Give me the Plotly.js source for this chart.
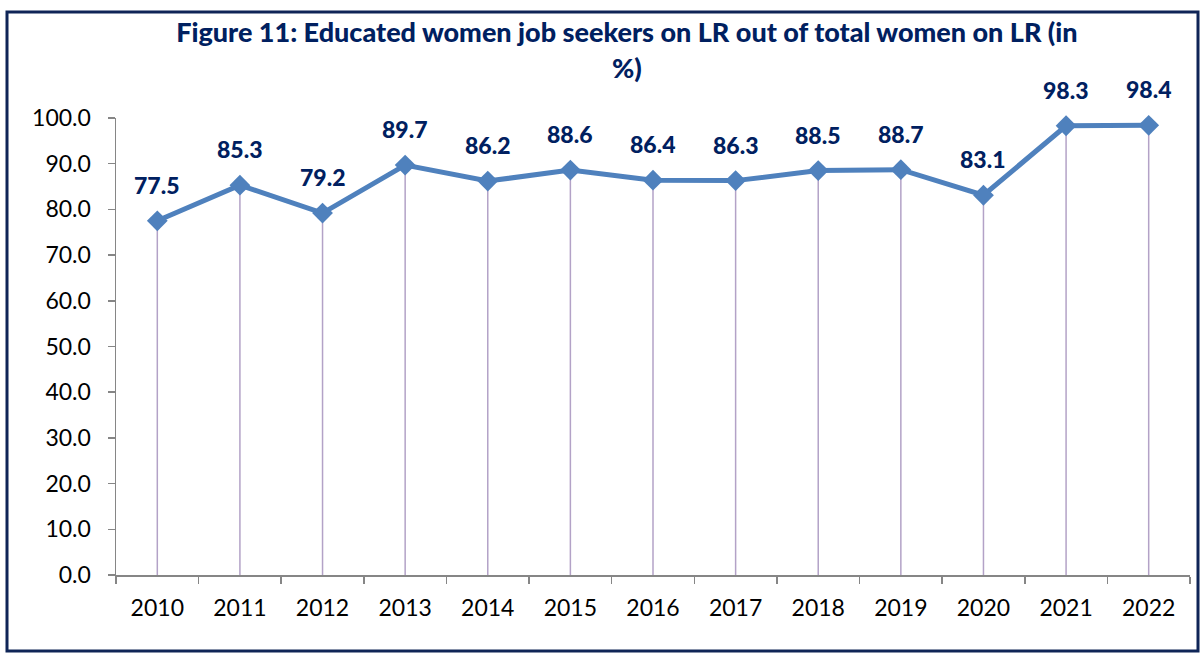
<!DOCTYPE html>
<html>
<head>
<meta charset="utf-8">
<script src="https://cdn.plot.ly/plotly-3.0.1.min.js"></script>
<style>
html,body{margin:0;padding:0;background:#fff;}
#chart{width:1201px;height:653px;}
</style>
</head>
<body>
<div id="chart"></div>
<script>
const years = ["2010","2011","2012","2013","2014","2015","2016","2017","2018","2019","2020","2021","2022"];
const shares = [77.5, 85.3, 79.2, 89.7, 86.2, 88.6, 86.4, 86.3, 88.5, 88.7, 83.1, 98.3, 98.4];
const yTickVals = [0,10,20,30,40,50,60,70,80,90,100];
const titleText = "Figure 11: Educated women job seekers on LR out of total women on LR (in<br>%)";

const FONT = "Lato, 'Open Sans', sans-serif";

const trace = {
  type: "scatter",
  mode: "lines+markers",
  x: years,
  y: shares,
  line: {color: "#4F81BD", width: 5},
  marker: {symbol: "diamond", size: 16, color: "#4F81BD"},
  error_y: {
    type: "data",
    symmetric: false,
    array: shares.map(() => 0),
    arrayminus: shares,
    width: 0,
    thickness: 1.5,
    color: "#B3A2C7"
  },
  hoverinfo: "x+y",
  cliponaxis: false
};

// category index used as annotation x (numeric-looking year strings would be read as indexes)
const annotations = years.map((yr, i) => ({
  x: i, y: shares[i], xref: "x", yref: "y",
  text: shares[i].toFixed(1),
  showarrow: false,
  yanchor: "middle",
  yshift: 36,
  font: {family: FONT, size: 23, color: "#002060", weight: 900}
}));

const layout = {
  width: 1201, height: 653,
  margin: {l: 116, r: 11, t: 118, b: 78},
  paper_bgcolor: "#ffffff",
  plot_bgcolor: "#ffffff",
  showlegend: false,
  title: {
    text: titleText,
    xref: "container", x: 0.522, xanchor: "center",
    yref: "container", y: 0.935, yanchor: "top",
    font: {family: FONT, size: 27, color: "#002060", weight: 900}
  },
  xaxis: {
    type: "category",
    showgrid: false,
    showline: true, linecolor: "#868686", linewidth: 1.5,
    ticks: "outside", tickson: "boundaries", ticklen: 7, tickcolor: "#868686", tickwidth: 1.5,
    tickfont: {family: FONT, size: 23, color: "#000000"},
    ticklabelstandoff: 12,
    range: [-0.5, 12.5],
    zeroline: false
  },
  yaxis: {
    range: [0, 100],
    tickvals: yTickVals,
    tickformat: ".1f",
    showgrid: false,
    showline: true, linecolor: "#868686", linewidth: 1.5,
    ticks: "outside", ticklen: 7, tickcolor: "#868686", tickwidth: 1.5,
    tickfont: {family: FONT, size: 23, color: "#000000"},
    ticklabelstandoff: 12,
    zeroline: false
  },
  annotations: annotations,
  shapes: [{
    type: "rect", xref: "paper", yref: "paper",
    x0: (7 - 116) / 1074, x1: (1198 - 116) / 1074,
    y0: (575 - 651) / 457, y1: (575 - 12) / 457,
    line: {color: "#0F2557", width: 3},
    fillcolor: "rgba(0,0,0,0)",
    layer: "below"
  }]
};

Plotly.newPlot("chart", [trace], layout, {displayModeBar: false, staticPlot: true});
</script>
</body>
</html>
